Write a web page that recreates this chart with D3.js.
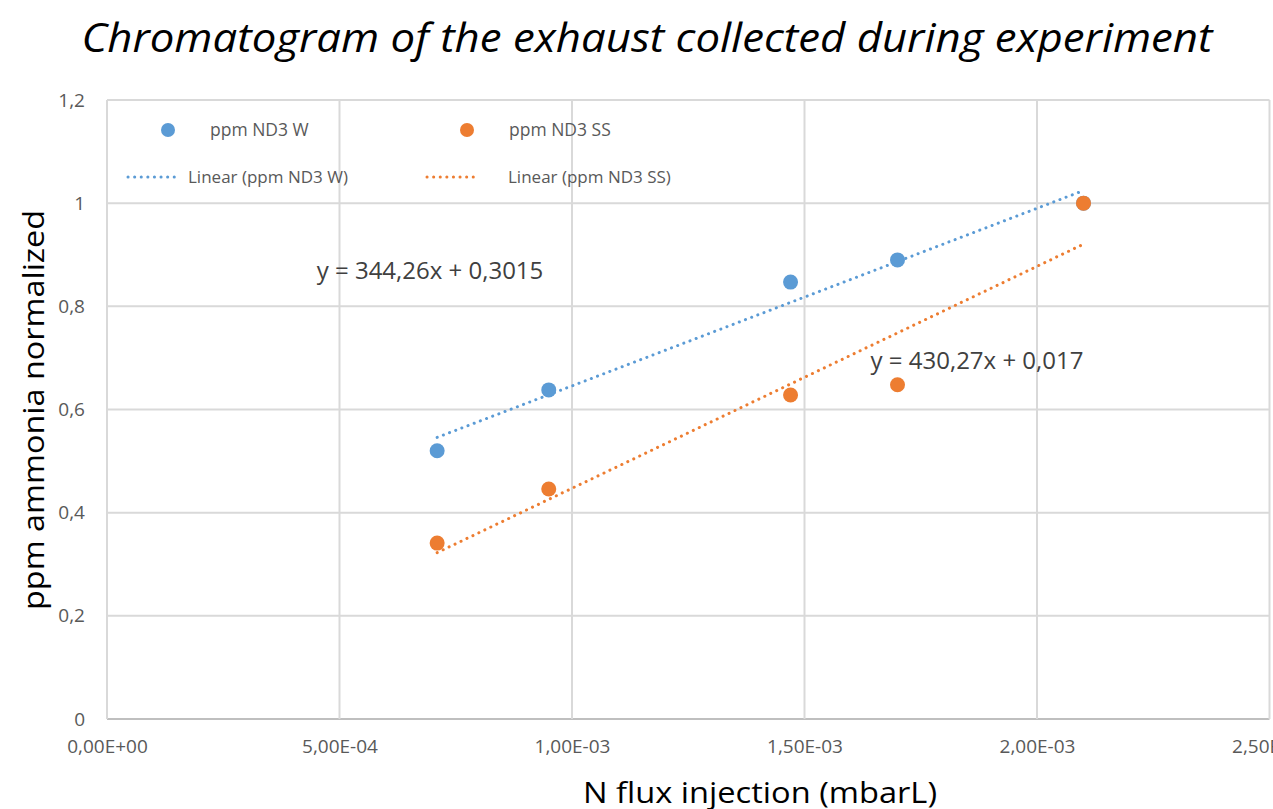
<!DOCTYPE html>
<html>
<head>
<meta charset="utf-8">
<script src="https://cdn.jsdelivr.net/npm/d3@7"></script>
<style>
  body { margin: 0; background: #fff; overflow: hidden; }
  text { font-family: "Open Sans", "Noto Sans", sans-serif; }
</style>
</head>
<body>
<div id="chart"></div>
<script>
// data
var fluxW = [7.1e-4, 9.5e-4, 1.47e-3, 1.70e-3, 2.10e-3];
var ppmW = [0.52, 0.638, 0.847, 0.89, 1.0];
var fluxSS = [7.1e-4, 9.5e-4, 1.47e-3, 1.70e-3, 2.10e-3];
var ppmSS = [0.341, 0.446, 0.628, 0.648, 1.0];
var seriesNames = ['ppm ND3 W', 'ppm ND3 SS'];
var trendSlopes = [344.26, 430.27];
var trendIntercepts = [0.3015, 0.017];
var trendLabels = ['y = 344,26x + 0,3015', 'y = 430,27x + 0,017'];
var xTicks = [0, 5e-4, 1e-3, 1.5e-3, 2e-3, 2.5e-3];
var xTickLabels = ['0,00E+00', '5,00E-04', '1,00E-03', '1,50E-03', '2,00E-03', '2,50E-03'];
var yTicks = [0, 0.2, 0.4, 0.6, 0.8, 1, 1.2];
var yTickLabels = ['0', '0,2', '0,4', '0,6', '0,8', '1', '1,2'];

var colors = ['#5b9bd5', '#ed7d31'];
var W = 1273, H = 809;
var margin = {top: 100, left: 107, bottom: 90};
var plotW = 1162.5, plotH = H - margin.top - margin.bottom;

var svg = d3.select('#chart')
    .append('svg')
        .attr('width', W)
        .attr('height', H);

var x = d3.scaleLinear()
    .domain([0, 2.5e-3])
    .range([margin.left, margin.left + plotW]);

var y = d3.scaleLinear()
    .domain([0, 1.2])
    .range([margin.top + plotH, margin.top]);

// grid
svg.append('g')
    .selectAll('line')
    .data(yTicks)
    .enter()
    .append('line')
    .attr('x1', x(0)).attr('x2', x(2.5e-3))
    .attr('y1', d => y(d)).attr('y2', d => y(d))
    .style('stroke', d => d === 0 ? '#bfbfbf' : '#d9d9d9')
    .style('stroke-width', 2);

svg.append('g')
    .selectAll('line')
    .data(xTicks)
    .enter()
    .append('line')
    .attr('x1', d => x(d)).attr('x2', d => x(d))
    .attr('y1', y(0)).attr('y2', y(1.2))
    .style('stroke', '#d9d9d9')
    .style('stroke-width', 2);

// axes labels
const yAxis = d3.axisLeft(y)
    .tickValues(yTicks)
    .tickSize(0)
    .tickPadding(22)
    .tickFormat((d, i) => yTickLabels[i]);

const xAxis = d3.axisBottom(x)
    .tickValues(xTicks)
    .tickSize(0)
    .tickPadding(19)
    .tickFormat((d, i) => xTickLabels[i]);

var gy = svg.append('g')
    .attr('transform', 'translate(' + margin.left + ',0)')
    .call(yAxis);
var gx = svg.append('g')
    .attr('transform', 'translate(0,' + y(0) + ')')
    .call(xAxis);
[gx, gy].forEach(g => {
    g.select('.domain').remove();
    g.selectAll('text')
        .style('font-family', '"Open Sans", sans-serif')
        .style('fill', '#595959');
});
gy.selectAll('text').style('font-size', '19px');
gx.selectAll('text').style('font-size', '19px').attr('dy', '0.8em');

// trend lines
var fluxes = [fluxW, fluxSS];
var ppms = [ppmW, ppmSS];

const line = d3.line()
    .x(d => x(d[0]))
    .y(d => y(d[1]));

[0, 1].forEach(i => {
    var ext = d3.extent(fluxes[i]);
    var pts = ext.map(v => [v, trendSlopes[i] * v + trendIntercepts[i]]);
    svg.append('path')
        .datum(pts)
        .attr('d', line)
        .style('fill', 'none')
        .style('stroke', colors[i])
        .style('stroke-width', 3)
        .style('stroke-linecap', 'round')
        .style('stroke-dasharray', '0.1 6.5');
});

// points
[0, 1].forEach(i => {
    svg.append('g')
        .selectAll('circle')
        .data(fluxes[i].map((v, k) => [v, ppms[i][k]]))
        .enter()
        .append('circle')
        .attr('cx', d => x(d[0]))
        .attr('cy', d => y(d[1]))
        .attr('r', 7.5)
        .style('fill', colors[i]);
});

// equation labels
var eqPos = [[430, 271], [977, 361]];
[0, 1].forEach(i => {
    svg.append('text')
        .attr('x', eqPos[i][0])
        .attr('y', eqPos[i][1])
        .attr('dy', '0.35em')
        .attr('text-anchor', 'middle')
        .style('font-size', '24px')
        .style('fill', '#404040')
        .text(trendLabels[i]);
});

// legend
var legX = [168, 467];
[0, 1].forEach(i => {
    svg.append('circle')
        .attr('cx', legX[i]).attr('cy', 130).attr('r', 7)
        .style('fill', colors[i]);
    svg.append('text')
        .attr('x', legX[i] + 42).attr('y', 130).attr('dy', '0.35em')
        .style('font-size', '17.5px').style('fill', '#595959')
        .text(seriesNames[i]);
    svg.append('line')
        .attr('x1', legX[i] - 40).attr('x2', legX[i] + 12)
        .attr('y1', 177).attr('y2', 177)
        .style('stroke', colors[i])
        .style('stroke-width', 3)
        .style('stroke-linecap', 'round')
        .style('stroke-dasharray', '0.1 6.5');
    svg.append('text')
        .attr('x', legX[i] + 20 + (i ? 21 : 0)).attr('y', 177).attr('dy', '0.35em')
        .style('font-size', '17px').style('fill', '#595959')
        .text('Linear (' + seriesNames[i] + ')');
});

// title + axis titles
svg.append('text')
    .attr('x', 647).attr('y', 52)
    .attr('text-anchor', 'middle')
    .attr('textLength', 1131)
    .attr('lengthAdjust', 'spacingAndGlyphs')
    .style('font-size', '40px')
    .style('font-style', 'italic')
    .style('fill', '#000')
    .text('Chromatogram of the exhaust collected during experiment');

svg.append('text')
    .attr('transform', 'translate(44,410) rotate(-90)')
    .attr('text-anchor', 'middle')
    .attr('textLength', 400)
    .attr('lengthAdjust', 'spacingAndGlyphs')
    .style('font-size', '30px')
    .style('fill', '#000')
    .text('ppm ammonia normalized');

svg.append('text')
    .attr('x', 760).attr('y', 803)
    .attr('text-anchor', 'middle')
    .attr('textLength', 354)
    .attr('lengthAdjust', 'spacingAndGlyphs')
    .style('font-size', '30px')
    .style('fill', '#000')
    .text('N flux injection (mbarL)');
</script>
</body>
</html>
